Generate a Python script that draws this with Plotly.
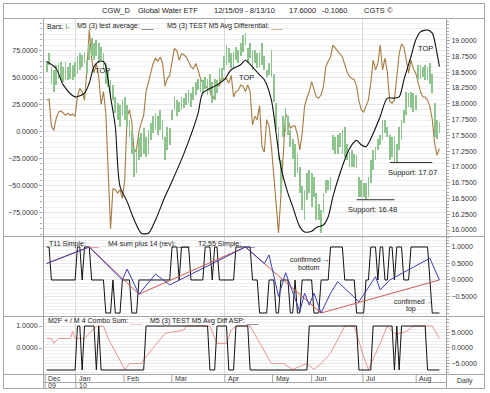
import plotly.graph_objects as go

# ---------------- data ----------------
N_DAYS = 167                      # trading days 12/15/09 - 8/13/10
day_index = list(range(N_DAYS))

# date-row labels and their positions (in bar units)
month_labels = ["Dec", "Jan", "Feb", "Mar", "Apr", "May", "Jun", "Jul", "Aug"]
month_pos = [-0.6, 12.3, 32.7, 52.9, 75.3, 95.5, 112.0, 133.7, 156.2]
year_labels = ["09", "10"]
year_pos = [-0.6, 12.3]

price_high = [18.67, 18.80, 18.59, 18.54, 18.62, 18.64, 18.67, 18.59, 18.67, 18.59,
              18.64, 18.62, 18.67, 18.75, 18.80, 18.77, 18.82, 18.69, 18.95, 19.04,
              18.96, 19.01, 18.96, 18.90, 18.80, 18.64, 18.54, 18.38, 18.30, 18.11,
              18.01, 17.98, 18.06, 18.11, 17.98, 17.74, 17.58, 17.32, 17.27, 17.48,
              17.53, 17.61, 17.48, 17.58, 17.69, 17.80, 17.85, 17.80, 17.90, 17.74,
              17.48, 17.64, 17.61, 17.90, 18.11, 18.06, 18.03, 18.11, 18.09, 18.17,
              18.22, 18.17, 18.27, 18.35, 18.40, 18.40, 18.38, 18.43, 18.40, 18.48,
              18.35, 18.40, 18.38, 18.56, 18.56, 18.75, 18.93, 18.88, 18.80, 18.82,
              18.90, 18.85, 18.96, 19.09, 19.12, 18.88, 18.96, 18.85, 18.85, 18.80,
              18.82, 18.96, 18.75, 18.54, 18.64, 18.85, 18.48, 18.01, 17.64, 17.11,
              17.80, 17.93, 17.80, 17.58, 17.45, 17.37, 17.21, 17.00, 16.69, 16.63,
              16.90, 16.95, 16.90, 16.84, 16.58, 16.42, 16.32, 16.58, 16.79, 16.79,
              16.84, 17.50, 17.48, 17.50, 17.53, 17.58, 17.64, 17.37, 17.24, 17.27,
              17.21, 17.19, 16.84, 16.79, 16.74, 16.74, 16.84, 17.11, 17.27, 17.32,
              17.45, 17.50, 17.74, 17.74, 17.64, 17.50, 17.48, 17.48, 17.37, 17.64,
              17.74, 17.90, 18.19, 18.17, 18.19, 18.17, 18.14, 18.62, 18.62, 18.59,
              18.62, 18.59, 18.64, 18.48, 18.01, 17.74, 17.71]
price_low = [18.51, 18.62, 18.32, 18.19, 18.30, 18.40, 18.38, 18.35, 18.38, 18.38,
             18.40, 18.38, 18.43, 18.48, 18.54, 18.59, 18.64, 18.48, 18.70, 18.75,
             18.69, 18.75, 18.64, 18.69, 18.54, 18.32, 18.27, 18.11, 18.06, 17.85,
             17.74, 17.64, 17.80, 17.74, 17.64, 17.48, 17.21, 16.84, 16.90, 17.11,
             17.16, 17.21, 17.16, 17.21, 17.42, 17.53, 17.58, 17.50, 17.58, 17.42,
             17.11, 17.27, 17.35, 17.74, 17.90, 17.80, 17.87, 17.90, 17.93, 17.98,
             18.01, 17.95, 18.06, 18.14, 18.22, 18.19, 18.17, 18.24, 18.14, 18.19,
             18.01, 18.06, 18.17, 18.32, 18.35, 18.54, 18.62, 18.64, 18.56, 18.56,
             18.69, 18.64, 18.75, 18.82, 18.93, 18.64, 18.72, 18.54, 18.64, 18.56,
             18.59, 18.62, 18.54, 18.43, 18.46, 18.43, 18.03, 17.58, 17.11, 16.58,
             17.48, 17.56, 17.50, 17.32, 17.13, 16.84, 16.90, 16.58, 16.32, 16.16,
             16.48, 16.58, 16.37, 16.53, 16.16, 16.16, 15.95, 16.27, 16.58, 16.63,
             16.63, 17.27, 17.21, 17.21, 17.32, 17.21, 17.16, 17.11, 17.00, 17.00,
             17.00, 16.98, 16.53, 16.53, 16.53, 16.48, 16.53, 16.74, 16.95, 17.11,
             17.27, 17.35, 17.42, 17.53, 17.48, 17.11, 17.16, 17.08, 17.08, 17.27,
             17.42, 17.69, 17.82, 17.95, 17.93, 17.87, 17.90, 18.38, 18.40, 18.43,
             18.38, 18.38, 18.32, 18.17, 17.48, 17.45, 17.53]

# M5 (3) test average (price scale), read at these days
test_avg_day = [0, 4, 7, 12, 16, 18, 20, 22, 24, 25, 27, 29, 31, 34, 37, 40, 43, 46, 50, 52,
                58, 64, 66, 72, 75, 78, 82, 84, 88, 90, 92, 95, 97, 99, 102, 104, 107, 109,
                112, 114, 117, 119, 121, 124, 127, 129, 131, 133, 135, 138, 141, 144, 147,
                149, 151, 154, 156, 158, 161, 163, 165, 166]
test_avg_val = [18.67, 18.56, 18.30, 18.11, 18.17, 18.33, 18.59, 18.67, 18.67, 18.59,
                18.11, 17.64, 16.69, 16.45, 16.16, 15.95, 15.95, 16.16, 16.53, 16.69,
                17.21, 17.85, 18.17, 18.30, 18.38, 18.54, 18.62, 18.69, 18.54, 18.46,
                18.38, 18.06, 17.53, 17.00, 16.58, 16.37, 16.05, 15.97, 15.98, 16.04,
                16.08, 16.21, 16.53, 16.90, 17.21, 17.35, 17.42, 17.35, 17.32, 17.53,
                17.80, 18.09, 18.09, 18.11, 18.38, 18.75, 19.01, 19.14, 19.17, 19.12,
                18.80, 18.59]

# M5 (3) TEST M5 Avg Differential (left scale), one value per day
avg_diff = [29, 30, 5, 1, 12, 18, 19, 17, 15, 17,
            15, 16, 14, 32, 40, 37, 29, 57, 94, 68,
            54, 63, 51, 25, 37, 17, -42, -90, -53, -54,
            -57, -54, -62, -45, 14, 20, 8, -20, -16, 0,
            8, 15, 37, 45, 54, 63, 68, 65, 69, 63,
            42, 49, 52, 65, 77, 75, 66, 72, 71, 69,
            65, 60, 58, 63, 57, 49, 45, 42, 40, 38,
            29, 34, 43, 42, 51, 48, 49, 45, 52, 32,
            37, 38, 43, 42, 37, 43, 37, 6, 14, 11,
            24, -14, -19, 11, 5, -14, -42, -70, -94, -60,
            -17, 17, 11, 3, 5, 5, -3, -17, -2, 23,
            31, 37, 46, 38, 32, 31, 34, 42, 60, 65,
            69, 80, 77, 74, 72, 69, 62, 55, 51, 49,
            48, 42, 28, 20, 18, 23, 29, 45, 66, 57,
            63, 80, 57, 68, 55, 28, 26, 29, 51, 72,
            81, 78, 66, 54, 66, 58, 54, 46, 37, 32,
            32, 29, 23, 11, -11, -22, -16]

# middle panel
t11_day = [0, 18, 39, 84, 116, 166]
t11_val = [0.5, 1.0, -0.43, 1.0, -1.0, 0.0]
t255_day = [0, 18, 32, 34, 39, 46, 52, 84, 92, 94, 98, 101, 107, 109, 111, 113, 116,
            120, 123, 132, 139, 141, 145, 162, 166]
t255_val = [0.5, 1.0, 0.0, 0.33, -0.43, 0.18, -0.15, 1.0, 0.5, 0.76, -0.5, 0.22, -0.96,
            -0.40, -0.76, -0.40, -1.0, -0.40, -0.05, -0.66, 0.1, -0.30, 0.0, 0.66, 0.0]
m4_sum = [1, 1, 0, 0, 0, 0, 0, 0, 0, 0,
          0, 0, 0, 1, 1, 0, 1, 1, 1, 0,
          0, 0, 0, 0, 0, -1, -1, -1, 0, -1,
          -1, -1, 0, 0, 0, 0, -1, -1, -1, 0,
          0, 0, 0, 0, 0, 0, 0, 0, 0, 0,
          0, 0, 0, 1, 1, 1, 0, 1, 1, 1,
          1, 0, 0, 0, 0, 0, 0, 1, 1, 1,
          0, 1, 1, 0, 0, 0, 0, 0, 0, 0,
          1, 1, 1, 1, 1, 1, 1, 0, 0, 0,
          -1, -1, -1, -1, 0, 0, 0, -1, -1, 0,
          0, 0, 0, -1, -1, 0, -1, -1, 0, 0,
          0, 0, 0, -1, -1, -1, 0, 0, 0, 0,
          1, 1, 1, 1, 1, 1, 0, 0, 0, 0,
          0, -1, -1, -1, -1, 0, 0, 1, 1, 1,
          0, 1, 1, 0, 0, 1, 1, 0, 1, 1,
          1, 0, 0, 0, 1, 1, 1, 1, 1, 1,
          1, 1, 0, -1, -1, -1, -1]

# bottom panel
combo_day = [0, 2, 3, 5, 10, 11, 12, 16, 18, 21, 24, 26, 33, 35, 40, 42, 50, 58, 59, 69,
             72, 76, 78, 80, 86, 89, 95, 100, 104, 110, 113, 116, 120, 126, 130, 134, 136,
             141, 144, 147, 149, 152, 155, 163, 166]
combo_val = [3, 3, 1.4, 3, 3, 5.2, 3, 3, 4.6, 7, 7, 3, -7, -5.1, -5.1, -2.9, 4.6, 5.7, 7, 7,
             1.4, 1.4, 5.7, 7, 7, 3, -5.1, -5.1, -7, -5.1, -7, -5.1, -1.8, 7, 7, -2.9, -7,
             1.4, 7, 4.6, 4.6, 5.2, 7, 7, 3]
asp = [-1, -1, -1, -1, -1, -1, -1, -1, -1, -1,
       -1, -1, -1, 1, 1, -1, 1, 1, 1, 1,
       1, -1, 1, -1, -1, -1, -1, -1, -1, -1,
       -1, -1, -1, -1, -1, -1, -1, -1, -1, -1,
       -1, -1, 1, 1, 1, 1, 1, 1, 1, 1,
       1, 1, 1, 1, 1, 1, 1, 1, 1, 1,
       1, 1, 1, 1, 1, 1, 1, 1, 1, -1,
       -1, -1, 1, 1, 1, 1, 1, -1, -1, -1,
       1, 1, 1, 1, 1, 1, -1, -1, -1, -1,
       -1, -1, -1, -1, -1, -1, -1, -1, -1, -1,
       -1, -1, -1, -1, -1, -1, -1, -1, -1, -1,
       -1, 1, 1, 1, 1, 1, 1, 1, 1, 1,
       1, 1, 1, 1, 1, 1, 1, 1, 1, 1,
       1, 1, -1, -1, -1, -1, -1, -1, 1, 1,
       1, 1, 1, 1, 1, 1, 1, -1, 1, -1,
       1, 1, 1, 1, 1, 1, 1, 1, 1, 1,
       1, -1, -1, -1, -1, -1, -1]

price_ticks = [16.0, 16.25, 16.5, 16.75, 17.0, 17.25, 17.5, 17.75, 18.0, 18.25, 18.5, 18.75, 19.0]
diff_ticks = [-75, -50, -25, 0, 25, 50, 75]

# ---------------- geometry helpers ----------------
W, H = 490, 393
def px(x):
    return x / W
def py(y):
    return 1 - y / H

FONT = "Liberation Sans, Arial, Helvetica, sans-serif"
GRAY = "#a6a6a6"
GRID = "#efefef"
BAR_GREEN = "#8ec48e"

XR = [-1.56, 168.8]

fig = go.Figure()

# main panel
fig.add_trace(go.Scatter(x=day_index, y=avg_diff, mode="lines",
                         line=dict(color="#a57b3f", width=1.1), xaxis="x", yaxis="y"))
fig.add_trace(go.Bar(x=day_index, y=[h - l for h, l in zip(price_high, price_low)],
                     base=price_low, width=0.32, marker=dict(color=BAR_GREEN, line=dict(width=0)),
                     xaxis="x", yaxis="y2"))
fig.add_trace(go.Scatter(x=test_avg_day, y=test_avg_val, mode="lines",
                         line=dict(color="#111111", width=1.1, shape="spline", smoothing=0.8),
                         xaxis="x", yaxis="y2"))

# middle panel
fig.add_trace(go.Scatter(x=day_index, y=m4_sum, mode="lines",
                         line=dict(color="#111111", width=1), xaxis="x2", yaxis="y3"))
fig.add_trace(go.Scatter(x=t11_day, y=t11_val, mode="lines",
                         line=dict(color="#d4584f", width=1), xaxis="x2", yaxis="y3"))
fig.add_trace(go.Scatter(x=t255_day, y=t255_val, mode="lines",
                         line=dict(color="#3c3cb4", width=1), xaxis="x2", yaxis="y3"))

# bottom panel
fig.add_trace(go.Scatter(x=combo_day, y=combo_val, mode="lines",
                         line=dict(color="#e9958d", width=1), xaxis="x3", yaxis="y4"))
fig.add_trace(go.Scatter(x=day_index, y=asp, mode="lines",
                         line=dict(color="#111111", width=1), xaxis="x3", yaxis="y5"))

# quarterly vertical grid lines
xgrid = [p for p, lab in zip(month_pos, month_labels) if lab in ("Jan", "Apr", "Jul")]
xcommon = dict(domain=[px(43), px(446)], range=XR, showticklabels=False, tickvals=xgrid,
               showgrid=True, gridcolor="#d9d9d9", gridwidth=1, zeroline=False, showline=False,
               ticks="")
tickfont = dict(family=FONT, size=7, color="#333333")

fig.update_layout(
    width=W, height=H, margin=dict(l=0, r=0, t=0, b=0),
    paper_bgcolor="white", plot_bgcolor="white", showlegend=False,
    bargap=0,
    xaxis=dict(**xcommon, anchor="y"),
    xaxis2=dict(**xcommon, anchor="y3", matches="x"),
    xaxis3=dict(**xcommon, anchor="y4", matches="x"),
    yaxis=dict(domain=[py(236), py(18)], anchor="x", side="left", range=[-96.8, 105.1],
               tickvals=diff_ticks, tickformat=".4f", tickfont=tickfont, ticks="outside",
               ticklen=3, tickcolor=GRAY, showgrid=True, gridcolor="#e6e6e6",
               minor=dict(dtick=5, showgrid=True, gridcolor=GRID, ticks="outside", ticklen=2,
                          tickcolor=GRAY),
               zeroline=False, showline=False),
    yaxis2=dict(overlaying="y", anchor="x", side="right", range=[15.905, 19.36],
                tickvals=price_ticks, tickformat=".4f", tickfont=tickfont, ticks="outside",
                ticklen=3, tickcolor=GRAY, showgrid=False,
                minor=dict(dtick=0.05, ticks="outside", ticklen=2, tickcolor=GRAY),
                zeroline=False, showline=False),
    yaxis3=dict(domain=[py(316), py(236)], anchor="x2", side="right", range=[-1.091, 1.333],
                tickvals=[-0.5, 0, 0.5, 1.0], tickformat=".4f", tickfont=tickfont,
                ticks="outside", ticklen=3, tickcolor=GRAY, showgrid=True, gridcolor="#e6e6e6",
                minor=dict(dtick=0.1, showgrid=True, gridcolor=GRID, ticks="outside",
                           ticklen=2, tickcolor=GRAY),
                zeroline=False, showline=False),
    yaxis4=dict(domain=[py(374), py(316)], anchor="x3", side="right", range=[-8.48, 10.23],
                tickvals=[-5, 0, 5], tickformat=".4f", tickfont=tickfont,
                ticks="outside", ticklen=3, tickcolor=GRAY, showgrid=True, gridcolor="#e6e6e6",
                minor=dict(dtick=1, showgrid=True, gridcolor=GRID, ticks="outside",
                           ticklen=2, tickcolor=GRAY),
                zeroline=False, showline=False),
    yaxis5=dict(overlaying="y4", anchor="x3", side="left", range=[-1.1818, 1.4545],
                tickvals=[0, 1], tickformat=".4f", tickfont=tickfont,
                ticks="outside", ticklen=3, tickcolor=GRAY, showgrid=False,
                zeroline=False, showline=False),
)

# ---------------- frame / separators ----------------
shapes = []
def hline(y, x0, x1, color=GRAY, w=1):
    shapes.append(dict(type="line", xref="paper", yref="paper", x0=px(x0), x1=px(x1),
                       y0=py(y), y1=py(y), line=dict(color=color, width=w)))
def vline(x, y0, y1, color=GRAY, w=1):
    shapes.append(dict(type="line", xref="paper", yref="paper", x0=px(x), x1=px(x),
                       y0=py(y0), y1=py(y1), line=dict(color=color, width=w)))

shapes.append(dict(type="rect", xref="paper", yref="paper", x0=px(3.5), x1=px(484.5),
                   y0=py(388.5), y1=py(3.5), line=dict(color=GRAY, width=1)))
hline(18.5, 3.5, 484.5)
hline(236.5, 3.5, 484.5)
hline(316.5, 3.5, 484.5)
hline(374.5, 3.5, 484.5)
hline(382.5, 43.5, 446.5)
vline(43.5, 18.5, 388.5)
vline(446.5, 18.5, 388.5)

# date row separators
for m in month_pos:
    shapes.append(dict(type="line", xref="x3", yref="paper", x0=m, x1=m,
                       y0=py(382.5), y1=py(374.5), line=dict(color=GRAY, width=1)))
for yv in year_pos:
    shapes.append(dict(type="line", xref="x3", yref="paper", x0=yv, x1=yv,
                       y0=py(388.5), y1=py(382.5), line=dict(color=GRAY, width=1)))

# support lines
shapes.append(dict(type="line", xref="x", yref="y2", x0=131, x1=147, y0=16.48, y1=16.48,
                   line=dict(color="#333333", width=1)))
shapes.append(dict(type="line", xref="x", yref="y2", x0=145, x1=163, y0=17.07, y1=17.07,
                   line=dict(color="#333333", width=1)))
fig.update_layout(shapes=shapes)

# ---------------- texts ----------------
ann = []
def txt(x, y, s, size=7.5, anchor="left", color="#222222", xref="paper", yref="paper"):
    ann.append(dict(x=x, y=y, xref=xref, yref=yref, text=s, showarrow=False,
                    xanchor=anchor, yanchor="middle",
                    font=dict(family=FONT, size=size, color=color)))

TY = py(11)
txt(px(100), TY, "CGW_D")
txt(px(136), TY, "Global Water ETF")
txt(px(212), TY, "12/15/09 - 8/13/10")
txt(px(287), TY, "17.6000")
txt(px(320), TY, "-0.1060")
txt(px(362), TY, "CGTS ©")

txt(px(45), py(26), "Bars: <span style='color:#3f9a3f'>I-</span>", size=7)
txt(px(75), py(26), "M5 (3) test average: <span style='color:#111'>___</span>", size=7)
txt(px(165), py(26), "M5 (3) TEST M5 Avg Differential: <span style='color:#a57b3f'>___</span>", size=7)

txt(px(46.5), py(243.5), "T11 Simple: <span style='color:#d4584f'>___</span>", size=7)
txt(px(106), py(243.5), "M4 sum plus 14 (rev): <span style='color:#111'>___</span>", size=7)
txt(px(196), py(243.5), "T2.55 Simple: <span style='color:#3c3cb4'>___</span>", size=7)

txt(px(46), py(320.5), "M2F + / M 4 Combo Sum: <span style='color:#e9958d'>___</span>", size=7)
txt(px(148), py(320.5), "M5 (3) TEST M5 Avg Diff ASP: <span style='color:#111'>___</span>", size=7)

txt(px(93), py(70), "TOP", size=7.5)
txt(px(237), py(77), "TOP", size=7.5)
txt(px(416), py(49), "TOP", size=7.5)
txt(px(372), py(209), "Support: 16.48", size=7.5, anchor="center")
txt(px(412), py(172), "Support: 17.07", size=7.5, anchor="center")

txt(px(288), py(259), "confirmed →", size=7)
txt(px(296), py(267), "bottom", size=7)
txt(px(392), py(301), "confirmed →", size=7)
txt(px(404), py(309), "top", size=7)

for m, lab in zip(month_pos, month_labels):
    ann.append(dict(x=m, y=py(378.5), xref="x3", yref="paper", text=lab,
                    showarrow=False, xanchor="left", yanchor="middle", xshift=1,
                    font=dict(family=FONT, size=7, color="#333333")))
for yv, lab in zip(year_pos, year_labels):
    ann.append(dict(x=yv, y=py(385.5), xref="x3", yref="paper", text=lab,
                    showarrow=False, xanchor="left", yanchor="middle", xshift=1,
                    font=dict(family=FONT, size=7, color="#333333")))
txt(px(465), py(381), "Daily", size=7, anchor="center", color="#333333")

fig.update_layout(annotations=ann)
fig.write_html("out.html", config={"displayModeBar": False},
               post_script="document.body.style.margin='0';document.body.style.overflow='hidden';")
